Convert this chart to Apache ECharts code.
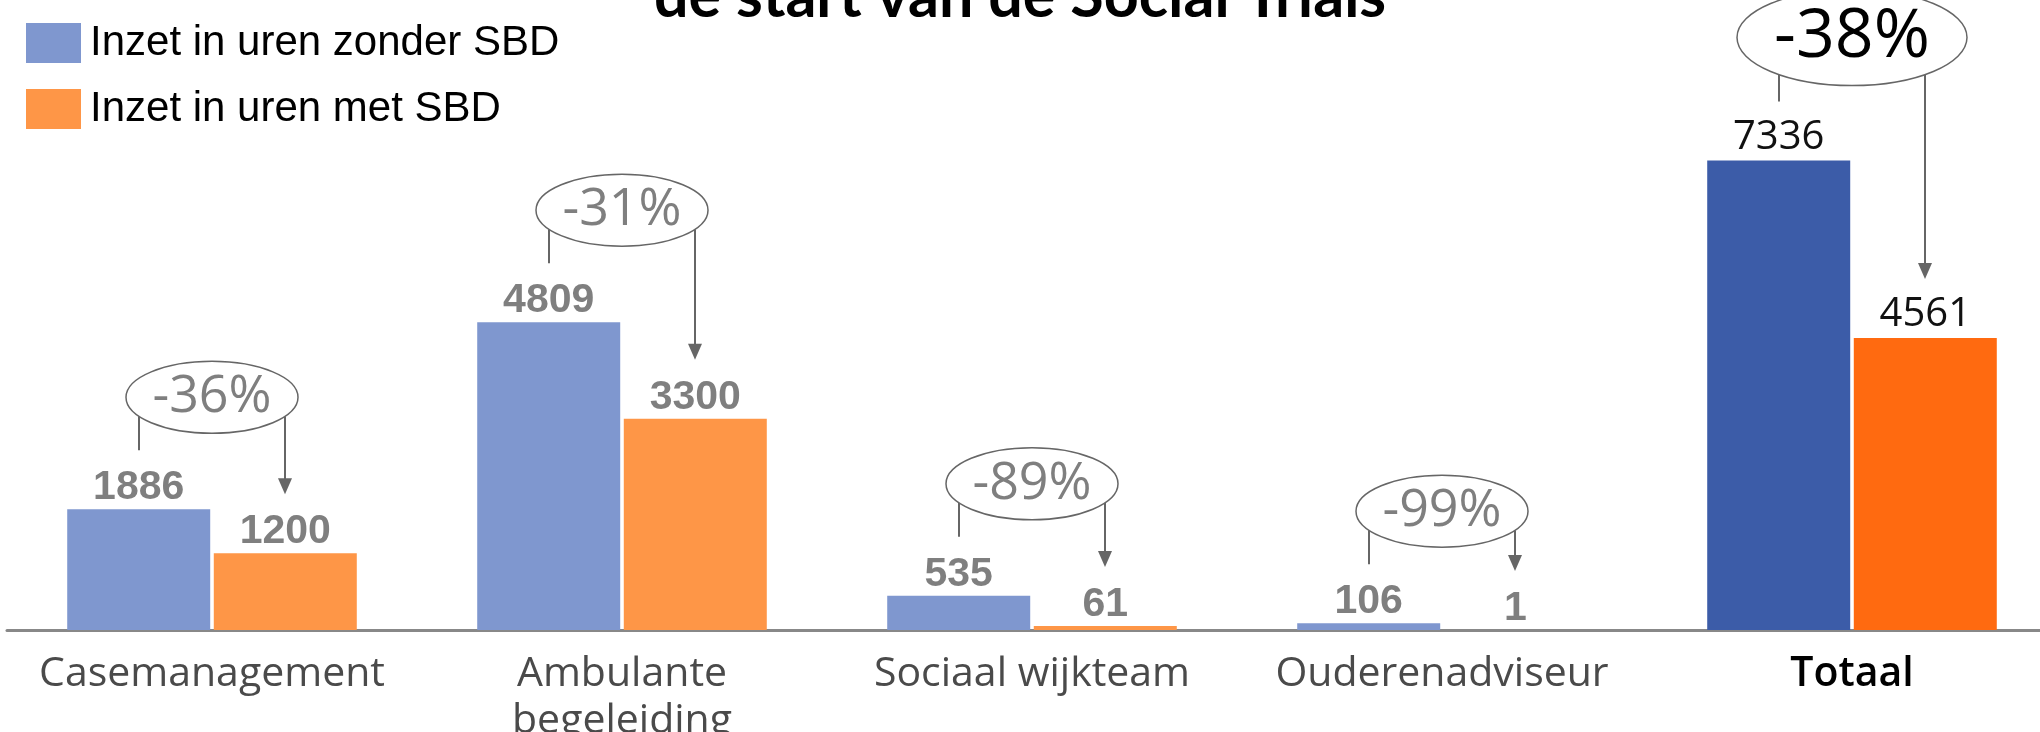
<!DOCTYPE html>
<html>
<head>
<meta charset="utf-8">
<script src="https://cdn.jsdelivr.net/npm/echarts@6/dist/echarts.min.js"></script>
<style>html,body{margin:0;padding:0;background:#fff;}#c{width:2040px;height:732px;}</style>
</head>
<body>
<div id="c"></div>
<script>
// ---- data ----
const titleText = 'de start van de Social Trials';
const categories = ['Casemanagement', 'Ambulante\nbegeleiding', 'Sociaal wijkteam', 'Ouderenadviseur', 'Totaal'];
const seriesNames = ['Inzet in uren zonder SBD', 'Inzet in uren met SBD'];
const zonderSBD = [1886, 4809, 535, 106, 7336];
const metSBD = [1200, 3300, 61, 1, 4561];

// ---- styles ----
const BLUE = '#7f97cf', ORANGE = '#fe9647';
const BLUE_TOT = '#3c5ca8', ORANGE_TOT = '#ff6a10';
const GRAY = '#7f7f7f';
const LINE = '#666666';
const BAR_W = 143;
const BAR_OFF = 73;
const last = categories.length - 1;

const chart = echarts.init(document.getElementById('c'), null, {renderer: 'canvas'});

function barData(vals, totColor) {
  return vals.map((v, i) => i === last ? {
    value: v,
    itemStyle: {color: totColor},
    label: {color: '#111', fontFamily: 'Open Sans', fontWeight: 500, fontSize: 40, distance: 3}
  } : v);
}

const annData = categories.map((c, i) => [i, zonderSBD[i], metSBD[i]]);

function pct(a, b) {
  return Math.round((b - a) / a * 100) + '%';
}

function renderAnn(params, api) {
  const i = api.value(0);
  const a = api.value(1), b = api.value(2);
  const pA = api.coord([i, a]);
  const pB = api.coord([i, b]);
  const cx = pA[0];
  const blueTop = pA[1], orangeTop = pB[1];
  const isTot = i === last;
  const rx = isTot ? 115 : 86, ry = isTot ? 48 : 36;
  const cy = blueTop - (isTot ? 123 : 112);
  const xl = cx - BAR_OFF, xr = cx + BAR_OFF;
  const dy = ry * Math.sqrt(Math.max(0, 1 - (BAR_OFF / rx) * (BAR_OFF / rx)));
  const tip = orangeTop - 59;
  return {
    type: 'group',
    children: [
      {type: 'line', shape: {x1: xl, y1: cy + dy, x2: xl, y2: blueTop - 59}, style: {stroke: LINE, lineWidth: 2}},
      {type: 'line', shape: {x1: xr, y1: cy + dy, x2: xr, y2: tip - 14}, style: {stroke: LINE, lineWidth: 2}},
      {type: 'polygon', shape: {points: [[xr - 7, tip - 16], [xr + 7, tip - 16], [xr, tip]]}, style: {fill: LINE}},
      {type: 'ellipse', shape: {cx: cx, cy: cy, rx: rx, ry: ry}, style: {fill: '#fff', stroke: LINE, lineWidth: 1.5}},
      {type: 'text', x: cx, y: cy, style: {
        text: pct(a, b), align: 'center', verticalAlign: 'middle',
        fill: isTot ? '#000' : GRAY,
        font: isTot ? '500 68px "Open Sans"' : 'normal 52px "Open Sans"'
      }}
    ]
  };
}

const option = {
  animation: false,
  backgroundColor: '#fff',
  title: {
    text: titleText, left: 'center', top: -38,
    textStyle: {fontFamily: 'Lato', fontWeight: 'bold', fontSize: 61, color: '#000'}
  },
  legend: {
    data: seriesNames, orient: 'vertical', left: 26, top: 22, padding: 0,
    icon: 'rect', itemWidth: 55, itemHeight: 40, itemGap: 24,
    textStyle: {fontFamily: 'Liberation Sans', fontSize: 42, color: '#000', padding: [0, 0, 0, 4]}
  },
  grid: {left: 7, width: 2050, top: 54, bottom: 102, containLabel: false, outerBoundsMode: 'none'},
  xAxis: {
    type: 'category',
    data: categories.map((c, i) => i === last ? {value: c, textStyle: {color: '#000', fontWeight: 600}} : c),
    axisLine: {lineStyle: {color: '#888', width: 3}},
    axisTick: {show: false},
    axisLabel: {fontFamily: 'Open Sans', fontSize: 41, color: '#4a4a4a', margin: 21, lineHeight: 47, interval: 0}
  },
  yAxis: {type: 'value', min: 0, max: 9000, show: false, splitLine: {show: false}},
  series: [
    {
      name: seriesNames[0], type: 'bar', barWidth: BAR_W, barGap: '2.5%',
      itemStyle: {color: BLUE},
      label: {show: true, position: 'top', distance: 1, color: GRAY, fontFamily: 'Liberation Sans', fontWeight: 'bold', fontSize: 41},
      data: barData(zonderSBD, BLUE_TOT)
    },
    {
      name: seriesNames[1], type: 'bar', barWidth: BAR_W, barGap: '2.5%',
      itemStyle: {color: ORANGE},
      label: {show: true, position: 'top', distance: 1, color: GRAY, fontFamily: 'Liberation Sans', fontWeight: 'bold', fontSize: 41},
      data: barData(metSBD, ORANGE_TOT)
    },
    {
      type: 'custom', renderItem: renderAnn, data: annData, z: 10,
      encode: {x: 0, y: 1}, silent: true
    }
  ]
};
chart.setOption(option);
</script>
</body>
</html>
